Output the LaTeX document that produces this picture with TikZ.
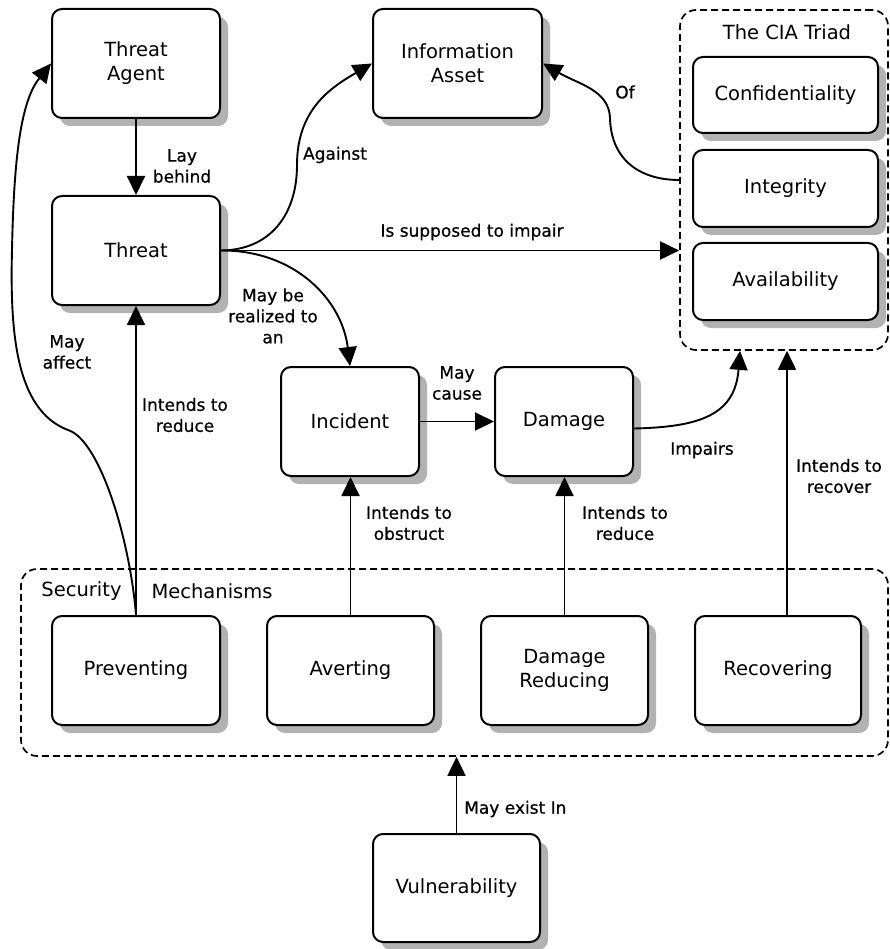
\documentclass[tikz,border=0pt]{standalone}
\usepackage{fontspec}
\setmainfont{DejaVu Sans}
\newfontfamily\relfont{DejaVu Sans}[FakeBold=0.6]
\usetikzlibrary{arrows.meta,shadows}
\begin{document}
\begin{tikzpicture}[x=1pt,y=1pt,
  box/.style={draw, line width=2pt, rounded corners=10pt, fill=white, inner sep=0pt,
    align=center, font=\fontsize{19.5}{24}\selectfont,
    drop shadow={opacity=1, fill=black!30, shadow xshift=8pt, shadow yshift=-8pt}},
  group/.style={draw, line width=1.7pt, dash pattern=on 7pt off 4pt, rounded corners=16pt, inner sep=0pt},
  link/.style={line width=1.9pt, -{Triangle[length=19pt,width=18pt]}},
  lbl/.style={align=center, font=\relfont\fontsize{17}{21}\selectfont, inner sep=0pt},
  grouptitle/.style={inner sep=0pt, font=\fontsize{19.5}{24}\selectfont},
]
\useasboundingbox (0,0) rectangle (890,-949);

% grouping frames
\node[group, minimum width=208, minimum height=340] (cia) at (784,-180) {};
\node[grouptitle] (ciatitle) at (787,-32) {The CIA Triad};
\node[group, minimum width=867, minimum height=187] (sec) at (454.5,-662.5) {};
\node[grouptitle] (sectitleA) at (81.5,-591) {Security};
\node[grouptitle] (sectitleB) at (212,-591) {Mechanisms};

% concepts
\node[box, minimum width=168, minimum height=109] (agent) at (136,-63.5) {Threat\\Agent};
\node[box, minimum width=168, minimum height=109] (threat) at (136,-250.5) {Threat};
\node[box, minimum width=169, minimum height=109] (asset) at (457.5,-63.5) {Information\\Asset};
\node[box, minimum width=185, minimum height=76] (conf) at (785.5,-95) {Confidentiality};
\node[box, minimum width=185, minimum height=77] (integ) at (785.5,-188.5) {Integrity};
\node[box, minimum width=185, minimum height=77] (avail) at (785.5,-281.5) {Availability};
\node[box, minimum width=138, minimum height=109] (incident) at (350,-421.5) {Incident};
\node[box, minimum width=138, minimum height=109] (damage) at (564,-421.5) {Damage};
\node[box, minimum width=168, minimum height=109] (prev) at (136,-670.5) {Preventing};
\node[box, minimum width=167, minimum height=109] (avert) at (350.5,-670.5) {Averting};
\node[box, minimum width=167, minimum height=109] (dred) at (564.5,-670.5) {Damage\\Reducing};
\node[box, minimum width=166, minimum height=109] (recov) at (778,-670.5) {Recovering};
\node[box, minimum width=167, minimum height=108] (vuln) at (456.5,-888) {Vulnerability};

% relations
\draw[link] (agent.south) -- (threat.north);
\draw[link] (threat.east) .. controls (270,-250) and (297,-215) .. (297,-165)
  .. controls (297,-110) and (330,-88) .. (asset.west);
\draw[link] (threat.east) -- (threat.east -| cia.west);
\draw[link] (cia.west) .. controls (640,-180) and (611,-160) .. (610,-118)
  .. controls (609,-90) and (578,-84) .. (asset.east);
\draw[link] (threat.east) .. controls (295,-250) and (342,-300) .. (incident.north);
\draw[link] (incident.east) -- (damage.west);
\draw[link] ([yshift=-7pt]damage.east) .. controls (700,-427) and (735,-415) .. ([xshift=-44pt]cia.south);
\coordinate (recTop) at ([xshift=9pt]recov.north);
\draw[link] (recTop) -- (recTop |- cia.south);
\draw[link] (avert.north) -- (avert.north |- incident.south);
\draw[link] (dred.north) -- (dred.north |- damage.south);
\draw[link] (prev.north) -- (threat.south);
\draw[link] (prev.north) .. controls (130,-540) and (100,-440) .. (68,-430)
  .. controls (15,-410) and (10,-330) .. (12,-250)
  .. controls (14,-150) and (22,-100) .. (agent.west);
\draw[link] (vuln.north) -- (vuln.north |- sec.south);

% relation labels
\node[lbl] (lLay) at (182,-166) {Lay\\behind};
\node[lbl] (lAgainst) at (335,-155) {Against};
\node[lbl] (lImpairGoal) at (472,-232) {Is supposed to impair};
\node[lbl] (lOf) at (625,-92) {Of};
\node[lbl] (lRealized) at (273,-316) {May be\\realized to\\an};
\node[lbl] (lAffect) at (67,-352) {May\\affect};
\node[lbl] (lReduceT) at (185,-415) {Intends to\\reduce};
\node[lbl] (lCause) at (457,-383) {May\\cause};
\node[lbl] (lImpairs) at (702,-450) {Impairs};
\node[lbl] (lRecover) at (839,-476) {Intends to\\recover};
\node[lbl] (lObstruct) at (409,-523) {Intends to\\obstruct};
\node[lbl] (lReduceD) at (625,-523) {Intends to\\reduce};
\node[lbl, anchor=west] (lExist) at (464,-809) {May exist In};
\end{tikzpicture}
\end{document}
